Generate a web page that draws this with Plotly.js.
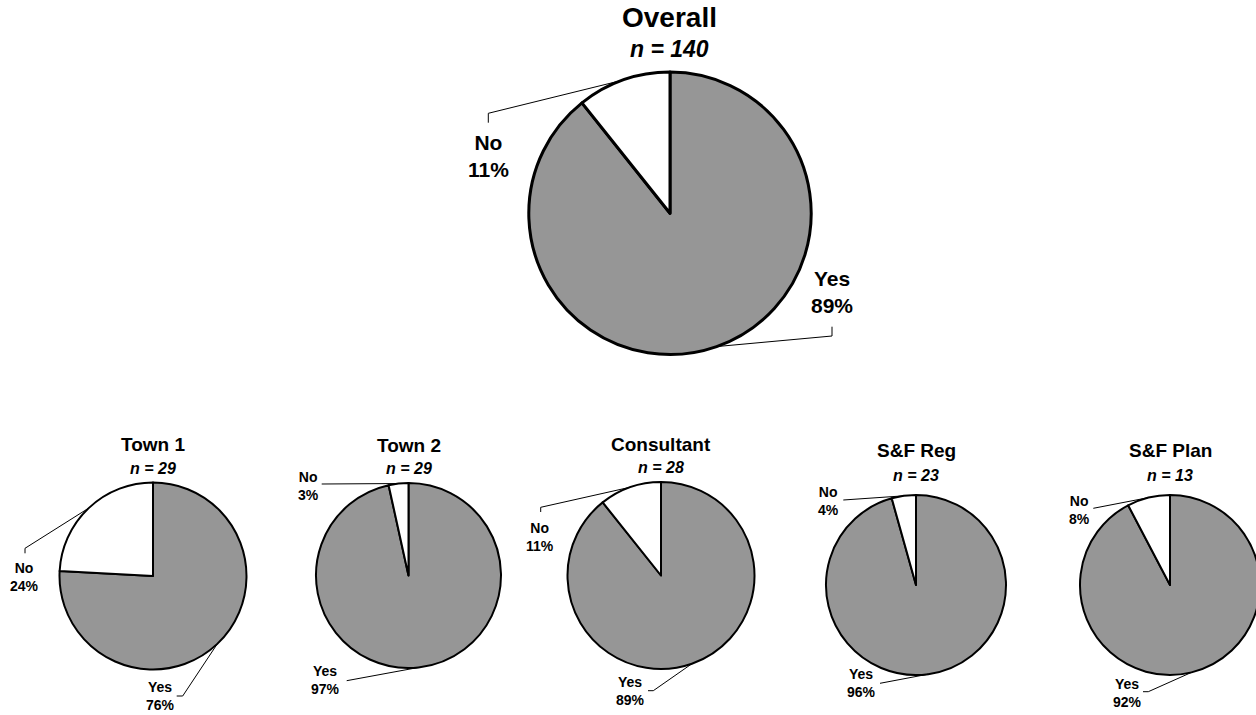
<!DOCTYPE html>
<html>
<head>
<meta charset="utf-8">
<script src="https://cdn.plot.ly/plotly-3.0.1.min.js"></script>
<style>
html, body { margin:0; padding:0; overflow:hidden; background:#fff; }
#chart { width:1270px; height:715px; }
</style>
</head>
<body>
<div id="chart"></div>
<script>
// ---- data ----
const groups = ['Overall', 'Town 1', 'Town 2', 'Consultant', 'S&F Reg', 'S&F Plan'];
const nValues = [140, 29, 29, 28, 23, 13];
const yesCounts = [125, 22, 28, 25, 22, 12];
const noCounts = [15, 7, 1, 3, 1, 1];
const sliceLabels = ['Yes', 'No'];
const sliceColors = ['#969696', '#ffffff'];

// ---- layout (pixel positions) ----
const W = 1270, H = 715;
const FONT = 'Arial, "Liberation Sans", sans-serif';
const pies = [
  {cx:670, cy:213.3, r:141.2, lw:3, titleY:17.3, nY:48.7, titleSize:28, nSize:23, labelSize:21,
   yes:{x:832, y:292, ex:832, ey:336, tx:832, ty:326.7},
   no:{x:488, y:156, ex:488.3, ey:113.3, tx:488.3, ty:122.7}},
  {cx:153, cy:576, r:93.5, lw:2, titleY:444.3, nY:468, titleSize:19, nSize:16, labelSize:14,
   yes:{x:160, y:696, ex:182.7, ey:696, tx:176.7, ty:696},
   no:{x:24, y:576.5, ex:25, ey:548.3, tx:25, ty:553.3}},
  {cx:408.5, cy:575.5, r:92.5, lw:2, titleY:445, nY:468, titleSize:19, nSize:16, labelSize:14,
   yes:{x:325, y:680, ex:346.7, ey:680.7},
   no:{x:308, y:486, ex:321.7, ey:484}},
  {cx:661, cy:575.5, r:93.5, lw:2, titleY:444.3, nY:467, titleSize:19, nSize:16, labelSize:14,
   yes:{x:630, y:690.5, ex:653.3, ey:690.7, tx:648, ty:690.7},
   no:{x:540, y:537, ex:540.7, ey:507.3, tx:540.7, ty:512}},
  {cx:916, cy:585, r:90, lw:2, titleY:450, nY:475, titleSize:19, nSize:16, labelSize:14,
   yes:{x:862, y:683, ex:880, ey:683.3},
   no:{x:828, y:501, ex:843.3, ey:500}},
  {cx:1170, cy:585, r:90, lw:2, titleY:450, nY:475, titleSize:19, nSize:16, labelSize:14,
   yes:{x:1127, y:692.5, ex:1148.3, ey:691.7, tx:1143, ty:691.7},
   no:{x:1079, y:510, ex:1093.3, ey:508.3}}
];

const px = x => x / W;
const py = y => 1 - y / H;

const traces = [];
const annotations = [];
const shapes = [];

groups.forEach((g, i) => {
  const p = pies[i];
  const vals = [yesCounts[i], noCounts[i]];
  traces.push({
    type: 'pie',
    values: vals,
    labels: sliceLabels,
    sort: false,
    direction: 'clockwise',
    rotation: 0,
    textinfo: 'none',
    hoverinfo: 'label+percent',
    showlegend: false,
    marker: { colors: sliceColors, line: { color: '#000000', width: p.lw } },
    domain: { x: [px(p.cx - p.r), px(p.cx + p.r)], y: [py(p.cy + p.r), py(p.cy - p.r)] }
  });

  // titles
  annotations.push({
    xref:'paper', yref:'paper', x:px(p.cx), y:py(p.titleY), xanchor:'center', yanchor:'middle',
    text:'<b>' + g + '</b>', showarrow:false, font:{family:FONT, size:p.titleSize, color:'#000'}
  });
  annotations.push({
    xref:'paper', yref:'paper', x:px(p.cx), y:py(p.nY), xanchor:'center', yanchor:'middle',
    text:'<b><i>n = ' + nValues[i] + '</i></b>', showarrow:false, font:{family:FONT, size:p.nSize, color:'#000'}
  });

  // slice labels + leader lines
  const total = vals[0] + vals[1];
  const fracYes = vals[0] / total, fracNo = vals[1] / total;
  const mids = [fracYes * 180, 360 - fracNo * 180];
  [p.yes, p.no].forEach((lab, k) => {
    const pct = Math.round(vals[k] / total * 100);
    annotations.push({
      xref:'paper', yref:'paper', x:px(lab.x), y:py(lab.y), xanchor:'center', yanchor:'middle',
      text:'<b>' + sliceLabels[k] + '<br>' + pct + '%</b>', showarrow:false,
      font:{family:FONT, size:p.labelSize, color:'#000'}
    });
    const th = mids[k] * Math.PI / 180;
    const ax = p.cx + p.r * Math.sin(th), ay = p.cy - p.r * Math.cos(th);
    let path = 'M ' + px(ax) + ',' + py(ay) + ' L ' + px(lab.ex) + ',' + py(lab.ey);
    if (lab.tx !== undefined) path += ' L ' + px(lab.tx) + ',' + py(lab.ty);
    shapes.push({ type:'path', xref:'paper', yref:'paper', path:path, line:{color:'#000', width:1} });
  });
});

const layout = {
  width: W, height: H,
  margin: {l:0, r:0, t:0, b:0, pad:0},
  paper_bgcolor: '#ffffff', plot_bgcolor: '#ffffff',
  showlegend: false,
  annotations: annotations,
  shapes: shapes
};

Plotly.newPlot('chart', traces, layout, {displayModeBar:false, staticPlot:true});
</script>
</body>
</html>
